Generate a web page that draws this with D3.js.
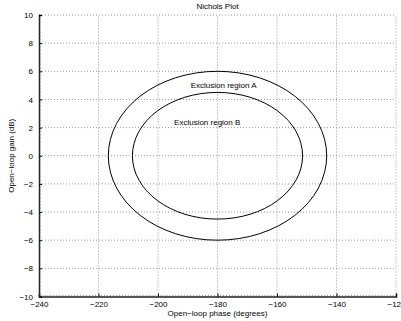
<!DOCTYPE html>
<html>
<head>
<meta charset="utf-8">
<script src="https://cdn.jsdelivr.net/npm/d3@7"></script>
<style>
  body { margin: 0; background: #fff; }
  text { font-family: "Liberation Sans", Arial, sans-serif; font-size: 8px; fill: #000; }
</style>
</head>
<body>
<div id="chart"></div>
<script>
// Axis ticks
const phaseTicks = [-240, -220, -200, -180, -160, -140, -120];
const gainTicks = [-10, -8, -6, -4, -2, 0, 2, 4, 6, 8, 10];

// Exclusion regions (ellipses): centre, half-width in phase, half-height in gain
const regionNames = ["Exclusion region A", "Exclusion region B"];
const regionPhaseCenter = [-180, -180];
const regionGainCenter = [0, 0];
const regionPhaseMargin = [36.7, 28.6];
const regionGainMargin = [6, 4.5];
const labelPhase = [-189, -194.6];
const labelGain = [5, 2.4];

const W = 401, H = 321;
const m = {left: 39, right: 5, top: 15, bottom: 24.5};

const svg = d3.select("#chart").append("svg")
    .attr("width", W)
    .attr("height", H);

const x = d3.scaleLinear().domain([-240, -120]).range([m.left, W - m.right]);
const y = d3.scaleLinear().domain([-10, 10]).range([H - m.bottom, m.top]);

const fmt = d => d < 0 ? "\u2212" + Math.abs(d) : String(d);

// grid
svg.append("g").selectAll("line")
    .data(phaseTicks.slice(1))
    .enter().append("line")
    .attr("x1", d => x(d)).attr("x2", d => x(d))
    .attr("y1", y(-10)).attr("y2", y(10))
    .attr("stroke", "#999").attr("stroke-dasharray", "1,2");

svg.append("g").selectAll("line")
    .data(gainTicks.slice(1))
    .enter().append("line")
    .attr("y1", d => y(d)).attr("y2", d => y(d))
    .attr("x1", x(-240)).attr("x2", x(-120))
    .attr("stroke", "#999").attr("stroke-dasharray", "1,2");

// ellipses
svg.append("g").selectAll("ellipse")
    .data(regionNames)
    .enter().append("ellipse")
    .attr("cx", (d, i) => x(regionPhaseCenter[i]))
    .attr("cy", (d, i) => y(regionGainCenter[i]))
    .attr("rx", (d, i) => x(regionPhaseCenter[i] + regionPhaseMargin[i]) - x(regionPhaseCenter[i]))
    .attr("ry", (d, i) => y(regionGainCenter[i]) - y(regionGainCenter[i] + regionGainMargin[i]))
    .attr("fill", "none")
    .attr("stroke", "#000")
    .attr("stroke-width", 1);

svg.append("g").selectAll("text")
    .data(regionNames)
    .enter().append("text")
    .attr("x", (d, i) => x(labelPhase[i]))
    .attr("y", (d, i) => y(labelGain[i]))
    .attr("dy", "0.35em")
    .text(d => d);

// axes
const xAxis = d3.axisBottom(x).tickValues(phaseTicks).tickSize(-3).tickPadding(6).tickFormat(fmt);
const yAxis = d3.axisLeft(y).tickValues(gainTicks).tickSize(-3).tickPadding(6).tickFormat(fmt);

const gx = svg.append("g").attr("transform", `translate(0,${y(-10)})`).call(xAxis);
const gy = svg.append("g").attr("transform", `translate(${x(-240)},0)`).call(yAxis);

[gx, gy].forEach(g => {
    g.select(".domain").attr("stroke", "#222").attr("stroke-width", 1.5);
    g.selectAll(".tick line").attr("stroke", "#000");
    g.selectAll("text").attr("font-size", 8).attr("font-family", "Liberation Sans, Arial, sans-serif").attr("fill", "#000");
});
gx.selectAll(".tick text").attr("dy", "0.5em");

// minor ticks
svg.append("g").selectAll("line")
    .data(d3.range(-240, -120, 1))
    .enter().append("line")
    .attr("x1", d => x(d)).attr("x2", d => x(d))
    .attr("y1", y(-10)).attr("y2", y(-10) - 1.5)
    .attr("stroke", "#444").attr("stroke-width", 0.6);
svg.append("g").selectAll("line")
    .data(d3.range(-10, 10, 0.25))
    .enter().append("line")
    .attr("y1", d => y(d)).attr("y2", d => y(d))
    .attr("x1", x(-240)).attr("x2", x(-240) + 1.5)
    .attr("stroke", "#444").attr("stroke-width", 0.6);

// titles
svg.append("text")
    .attr("x", (x(-240) + x(-120)) / 2)
    .attr("y", 9)
    .attr("text-anchor", "middle")
    .text("Nichols Plot");

svg.append("text")
    .attr("x", (x(-240) + x(-120)) / 2)
    .attr("y", 316)
    .attr("text-anchor", "middle")
    .text("Open\u2212loop phase (degrees)");

svg.append("text")
    .attr("transform", `translate(14,${(y(-10) + y(10)) / 2}) rotate(-90)`)
    .attr("text-anchor", "middle")
    .text("Open\u2212loop gain (dB)");
</script>
</body>
</html>
